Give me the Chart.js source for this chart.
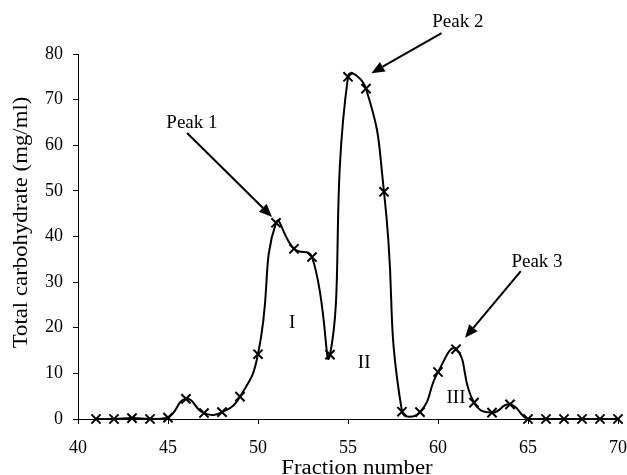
<!DOCTYPE html>
<html>
<head>
<meta charset="utf-8">
<script src="https://cdn.jsdelivr.net/npm/chart.js@4/dist/chart.umd.min.js"></script>
<style>
  body { margin: 0; background: #fff; }
</style>
</head>
<body>
<canvas id="chart" width="627" height="475"></canvas>
<script>
const fractions = [41, 42, 43, 44, 45, 46, 47, 48, 49, 50,
    51, 52, 53, 54, 55, 56, 57, 58, 59, 60,
    61, 62, 63, 64, 65, 66, 67, 68, 69, 70];
const carbohydrate = [0, 0, 0.2, 0, 0.3, 4.4, 1.3, 1.5, 4.9, 14.2,
    43, 37.3, 35.5, 14.1, 75, 72.4, 49.8, 1.6, 1.5, 10.3,
    15.3, 3.6, 1.4, 3.2, 0, 0, 0, 0, 0, 0];

const peakNames = ['Peak 1', 'Peak 2', 'Peak 3'];
const regionNames = ['I', 'II', 'III'];
const xTitle = 'Fraction number';
const yTitle = 'Total carbohydrate (mg/ml)';

// annotation placement, in data units
const peakText = [[46.33, 64.9], [61.1, 87.0], [65.5, 34.4]];
const arrowFrom = [[46.06, 62.7], [60.2, 84.6], [64.6, 32.4]];
const arrowTo = [[50.78, 44.3], [56.3, 75.8], [61.5, 17.8]];
const regionPos = [[51.9, 21.0], [55.9, 12.3], [61.0, 4.6]];

const serif = 'Liberation Serif, Times New Roman, serif';

// the original titles are set a bit wider than Liberation Serif
function stretchedText(ctx, text, x, y, rot, stretch) {
    ctx.save();
    ctx.translate(x, y);
    ctx.rotate(rot);
    ctx.scale(stretch, 1);
    ctx.fillText(text, 0, 0);
    ctx.restore();
}

const annotations = {
    id: 'annotations',
    afterDatasetsDraw(chart) {
        const ctx = chart.ctx;
        const x = chart.scales.x, y = chart.scales.y;
        ctx.save();
        ctx.fillStyle = '#000';
        ctx.strokeStyle = '#000';
        ctx.font = '19px ' + serif;
        ctx.textAlign = 'center';
        ctx.textBaseline = 'middle';
        peakNames.forEach((name, i) => {
            ctx.fillText(name, x.getPixelForValue(peakText[i][0]), y.getPixelForValue(peakText[i][1]));
            const x0 = x.getPixelForValue(arrowFrom[i][0]), y0 = y.getPixelForValue(arrowFrom[i][1]);
            const x1 = x.getPixelForValue(arrowTo[i][0]), y1 = y.getPixelForValue(arrowTo[i][1]);
            const a = Math.atan2(y1 - y0, x1 - x0);
            const len = 13, half = 5.5;
            const bx = x1 - len * Math.cos(a), by = y1 - len * Math.sin(a);
            ctx.lineWidth = 2;
            ctx.beginPath();
            ctx.moveTo(x0, y0);
            ctx.lineTo(bx, by);
            ctx.stroke();
            ctx.beginPath();
            ctx.moveTo(x1, y1);
            ctx.lineTo(bx + half * Math.sin(a), by - half * Math.cos(a));
            ctx.lineTo(bx - half * Math.sin(a), by + half * Math.cos(a));
            ctx.closePath();
            ctx.fill();
        });
        regionNames.forEach((name, i) => {
            ctx.fillText(name, x.getPixelForValue(regionPos[i][0]), y.getPixelForValue(regionPos[i][1]));
        });

        // axis titles
        ctx.font = '20px ' + serif;
        ctx.textBaseline = 'alphabetic';
        const area = chart.chartArea;
        stretchedText(ctx, xTitle, (area.left + area.right) / 2 + 9, 474, 0, 1.14);
        stretchedText(ctx, yTitle, 27, (area.top + area.bottom) / 2 - 14, -Math.PI / 2, 1.14);
        ctx.restore();
    }
};

const data = {
    datasets: [{
        label: 'Total carbohydrate',
        data: fractions.map((f, i) => ({x: f, y: carbohydrate[i]})),
        borderColor: '#000',
        borderWidth: 2,
        tension: 0.5,
        pointStyle: 'crossRot',
        pointRadius: 6.5,
        pointBorderWidth: 2,
        pointBorderColor: '#000',
        pointBackgroundColor: '#000',
        clip: false
    }]
};

const config = {
    type: 'line',
    data: data,
    options: {
        responsive: false,
        animation: false,
        layout: {
            padding: {top: 54, right: 9, left: 0, bottom: 0}
        },
        plugins: {
            legend: {display: false},
            tooltip: {enabled: false}
        },
        scales: {
            x: {
                type: 'linear',
                min: 40,
                max: 70,
                afterFit: (scale) => {
                    scale.height = 56;
                    scale.paddingLeft = 0;
                    scale.paddingRight = 0;
                },
                ticks: {
                    stepSize: 5,
                    color: '#000',
                    padding: 13,
                    maxRotation: 0,
                    font: {family: serif, size: 18}
                },
                grid: {
                    drawOnChartArea: false,
                    tickLength: 5,
                    color: '#000'
                },
                border: {color: '#000', width: 1}
            },
            y: {
                min: 0,
                max: 80,
                afterFit: (scale) => {
                    scale.width = 78;
                    scale.paddingTop = 0;
                    scale.paddingBottom = 0;
                },
                ticks: {
                    stepSize: 10,
                    color: '#000',
                    padding: 10,
                    font: {family: serif, size: 18}
                },
                grid: {
                    drawOnChartArea: false,
                    tickLength: 5,
                    color: '#000'
                },
                border: {color: '#000', width: 1}
            }
        }
    },
    plugins: [annotations]
};

new Chart(document.getElementById('chart'), config);
</script>
</body>
</html>
